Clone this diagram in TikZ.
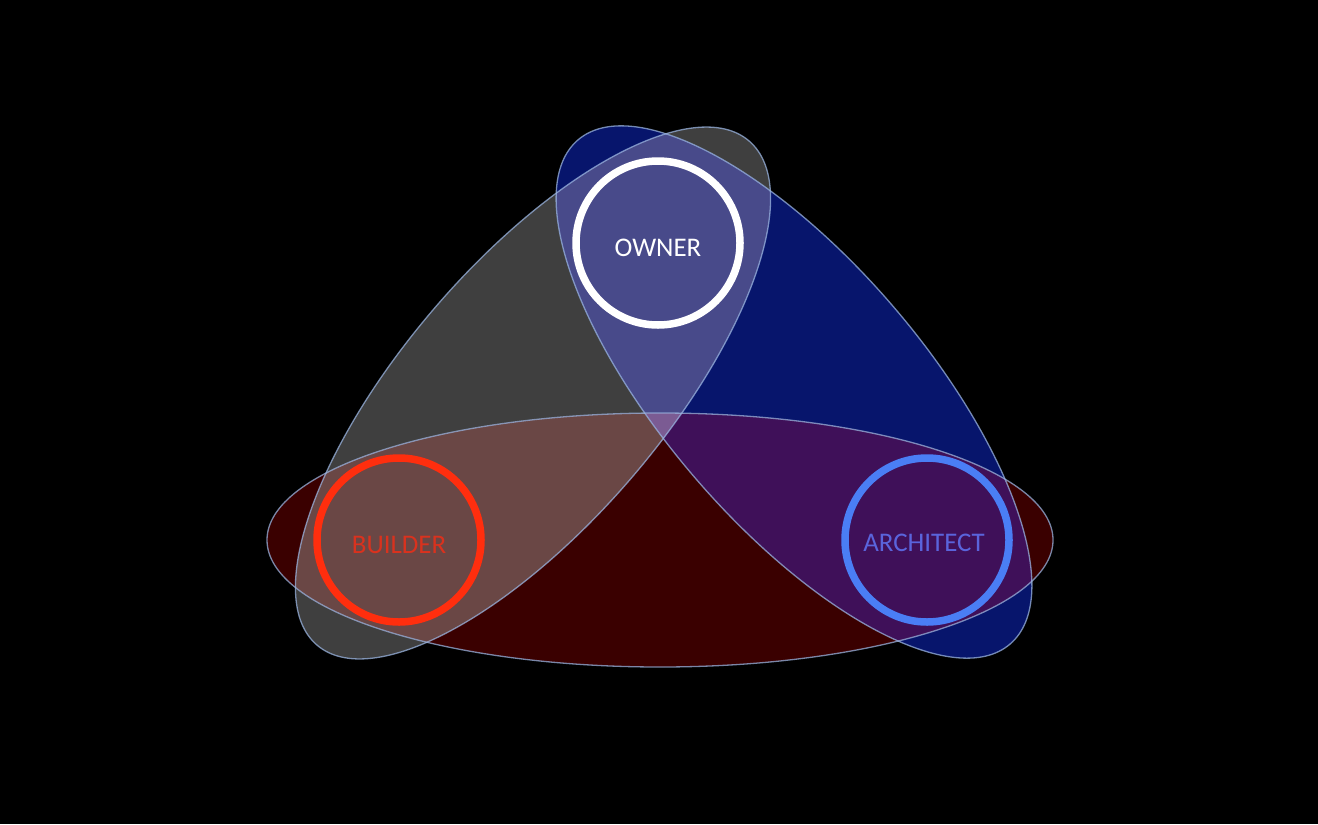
\documentclass[tikz,border=0pt]{standalone}
\usepackage{fontspec}
\setmainfont{Carlito}
\definecolor{cgray}{HTML}{3F3F3F}
\definecolor{cblue}{HTML}{07156C}
\definecolor{cred}{HTML}{3A0000}
\definecolor{cGB}{HTML}{484A8A}
\definecolor{cGR}{HTML}{6A4745}
\definecolor{cBR}{HTML}{3F1059}
\definecolor{cGBR}{HTML}{7B5B93}
\definecolor{edge}{HTML}{9AB4E0}
\definecolor{ringred}{HTML}{FF2E0E}
\definecolor{ringblue}{HTML}{4A7EF5}
\definecolor{txtred}{HTML}{D9321E}
\definecolor{txtblue}{HTML}{5A64DC}
\tikzset{
  grayshape/.style={rotate around={49.4:(533,393)}},
  blueshape/.style={rotate around={-49.4:(794,392)}},
  outline/.style={draw=edge, draw opacity=0.75, line width=1.3bp},
  ring/.style={circle, minimum size=164bp, inner sep=0pt, line width=7.5bp},
  lbl/.style={font=\fontsize{27}{30}\selectfont}
}
\newcommand{\grayell}{[grayshape] (533,393) ellipse [x radius=332, y radius=130]}
\newcommand{\blueell}{[blueshape] (794,392) ellipse [x radius=332, y radius=131]}
\newcommand{\redell}{(660,540) ellipse [x radius=393, y radius=127]}
\begin{document}
\begin{tikzpicture}[x=1bp,y=-1bp]
\fill[black] (0,0) rectangle (1318,824);
\useasboundingbox (0,0) rectangle (1318,824);
% base fills
\fill[cgray] \grayell;
\fill[cblue] \blueell;
\fill[cred] \redell;
% overlaps
\begin{scope}
  \clip \grayell;
  \fill[cGB] \blueell;
  \fill[cGR] \redell;
\end{scope}
\begin{scope}
  \clip \blueell;
  \fill[cBR] \redell;
\end{scope}
\begin{scope}
  \clip \grayell;
  \clip \blueell;
  \fill[cGBR] \redell;
\end{scope}
% outlines
\draw[outline] \grayell;
\draw[outline] \blueell;
\draw[outline] \redell;
% circles
\node[ring, draw=white] (owner) at (658,243) {};
\node[ring, draw=ringred] (builder) at (399,540) {};
\node[ring, draw=ringblue] (architect) at (927,540) {};
\node[lbl, text=white] (ownerlbl) at ([yshift=-5]owner.center) {OWNER};
\node[lbl, text=txtred] (builderlbl) at ([yshift=-5]builder.center) {BUILDER};
\node[lbl, text=txtblue] (architectlbl) at ([xshift=-3,yshift=-3]architect.center) {ARCHITECT};
\end{tikzpicture}
\end{document}
